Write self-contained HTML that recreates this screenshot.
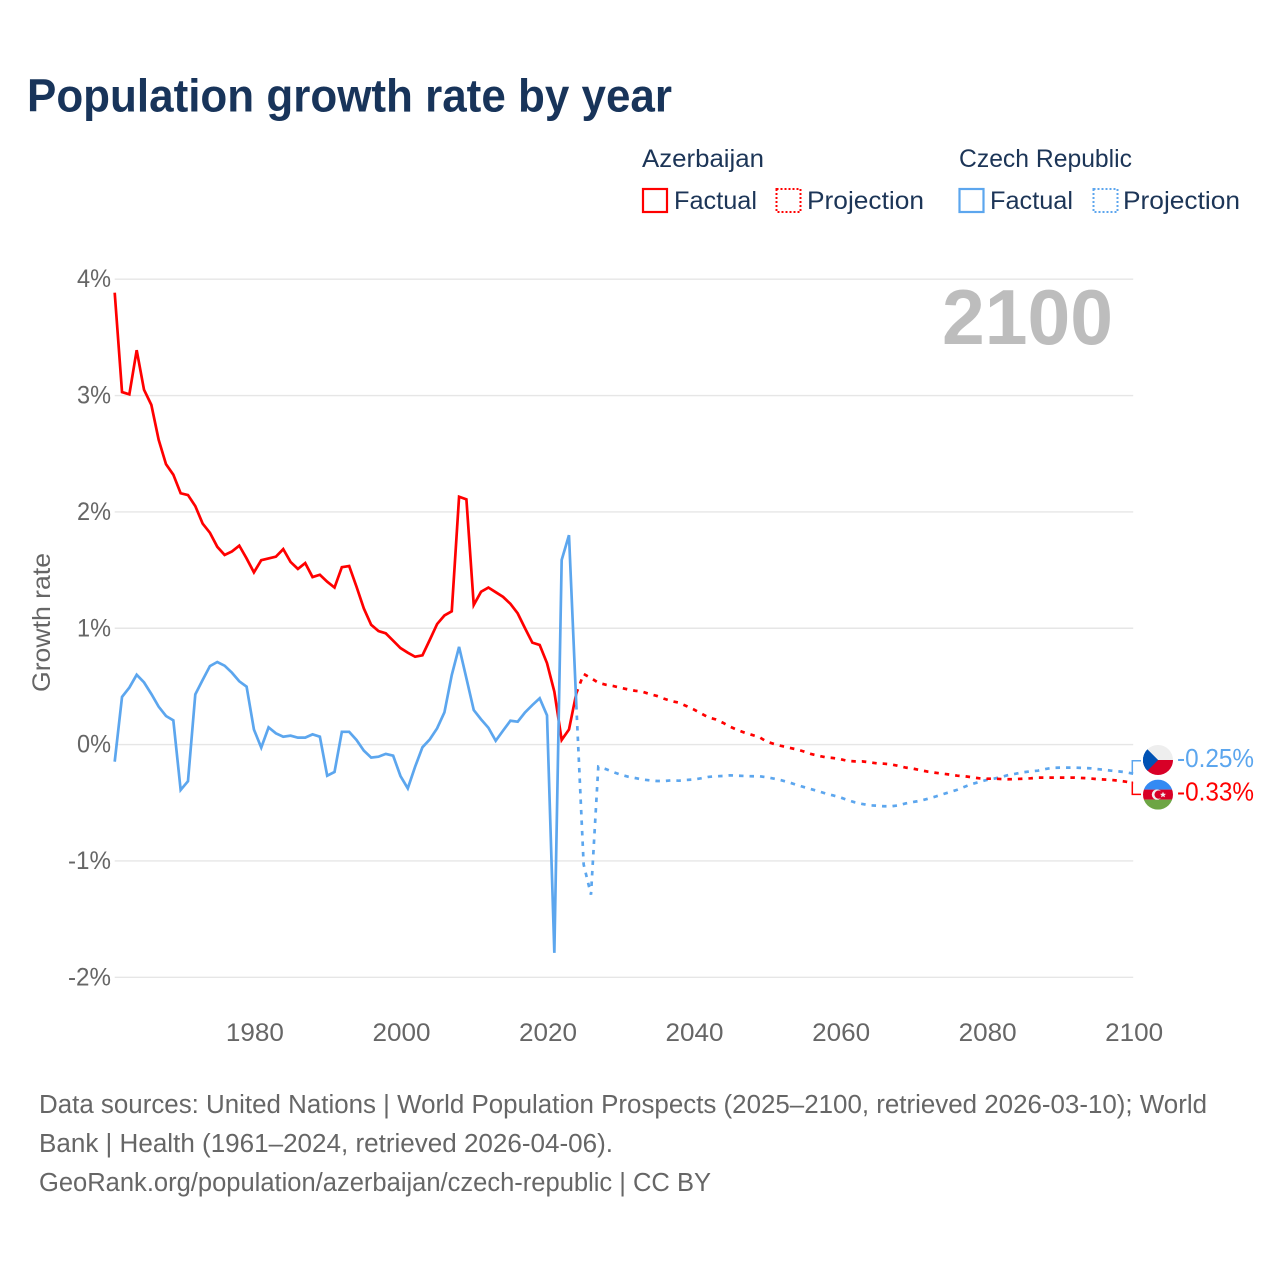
<!DOCTYPE html>
<html lang="en">
<head>
<meta charset="utf-8">
<title>Population growth rate by year</title>
<style>
html,body{margin:0;padding:0;background:#fff;width:1280px;height:1280px;overflow:hidden}
svg{display:block;font-family:"Liberation Sans",sans-serif}
</style>
</head>
<body>
<svg id="chart" width="1280" height="1280" viewBox="0 0 1280 1280" xmlns="http://www.w3.org/2000/svg">
  <defs>
    <clipPath id="clip-cz"><circle cx="1158" cy="760" r="15"/></clipPath>
    <clipPath id="clip-az"><circle cx="1158" cy="794.6" r="15"/></clipPath>
  </defs>
  <rect x="0" y="0" width="1280" height="1280" fill="#fff"/>
  <text x="27" y="111.5" font-size="46" font-weight="700" fill="#18345a" textLength="645" lengthAdjust="spacingAndGlyphs">Population growth rate by year</text>

  <g font-size="25" fill="#1c3557">
    <text x="642" y="167" textLength="122" lengthAdjust="spacingAndGlyphs">Azerbaijan</text>
    <text x="959" y="167" textLength="173" lengthAdjust="spacingAndGlyphs">Czech Republic</text>
    <rect x="643" y="189" width="24" height="23" fill="none" stroke="#ff0000" stroke-width="2.2"/>
    <text x="674" y="209" textLength="83" lengthAdjust="spacingAndGlyphs">Factual</text>
    <rect x="776.5" y="189" width="24" height="23" fill="none" stroke="#ff0000" stroke-width="2" stroke-dasharray="2 2"/>
    <text x="807" y="209" textLength="117" lengthAdjust="spacingAndGlyphs">Projection</text>
    <rect x="959.5" y="189" width="24" height="23" fill="none" stroke="#5ca6ee" stroke-width="2.2"/>
    <text x="990" y="209" textLength="83" lengthAdjust="spacingAndGlyphs">Factual</text>
    <rect x="1093.5" y="189" width="24" height="23" fill="none" stroke="#5ca6ee" stroke-width="2" stroke-dasharray="2 2"/>
    <text x="1123" y="209" textLength="117" lengthAdjust="spacingAndGlyphs">Projection</text>
  </g>

  <g id="grid"></g>
  <g id="yticks"></g>
  <g id="xticks"></g>
  <text transform="translate(50,622.5) rotate(-90)" text-anchor="middle" font-size="25" fill="#666" textLength="139" lengthAdjust="spacingAndGlyphs">Growth rate</text>
  <text x="942" y="344" font-size="78" font-weight="700" fill="#bdbdbd" textLength="171" lengthAdjust="spacingAndGlyphs">2100</text>

  <g id="series"></g>

  <path d="M1133 772.7H1132.3V760.7H1141" fill="none" stroke="#5ca6ee" stroke-width="1.5"/>
  <path d="M1133 782.3H1132.3V794.4H1141" fill="none" stroke="#ff0000" stroke-width="1.5"/>

  <g clip-path="url(#clip-cz)">
    <rect x="1143" y="745" width="30" height="15" fill="#eeeeee"/>
    <rect x="1143" y="760" width="30" height="15" fill="#d80027"/>
    <polygon points="1143,745 1158,760 1143,775" fill="#0052b4"/>
    <polygon points="1147,749 1158,760 1147,771 1143,775 1143,745" fill="#0052b4"/>
  </g>
  <g clip-path="url(#clip-az)">
    <rect x="1143" y="779.6" width="30" height="10" fill="#338af3"/>
    <rect x="1143" y="789.6" width="30" height="10" fill="#d80027"/>
    <rect x="1143" y="799.6" width="30" height="10" fill="#6da544"/>
    <circle cx="1157" cy="794.6" r="5.2" fill="#f0f0f0"/>
    <circle cx="1158.6" cy="794.6" r="4.1" fill="#d80027"/>
    <polygon points="1163,791.8 1163.9,793.7 1166,793.9 1164.4,795.2 1165,797.3 1163,796.2 1161,797.3 1161.6,795.2 1160,793.9 1162.1,793.7" fill="#f0f0f0"/>
  </g>
  <text x="1177" y="767" font-size="25.5" fill="#5ca6ee" textLength="77" lengthAdjust="spacingAndGlyphs">-0.25%</text>
  <text x="1177" y="800.5" font-size="25.5" fill="#ff0000" textLength="77" lengthAdjust="spacingAndGlyphs">-0.33%</text>

  <g font-size="25.5" fill="#666">
    <text x="39" y="1113" textLength="1168" lengthAdjust="spacingAndGlyphs">Data sources: United Nations | World Population Prospects (2025–2100, retrieved 2026-03-10); World</text>
    <text x="39" y="1152" textLength="574" lengthAdjust="spacingAndGlyphs">Bank | Health (1961–2024, retrieved 2026-04-06).</text>
    <text x="39" y="1191" textLength="672" lengthAdjust="spacingAndGlyphs">GeoRank.org/population/azerbaijan/czech-republic | CC BY</text>
  </g>
</svg>

<script>
// Chart data
const yTickValues = [4, 3, 2, 1, 0, -1, -2];
const yTickLabels = ["4%", "3%", "2%", "1%", "0%", "-1%", "-2%"];
const xTickValues = [1980, 2000, 2020, 2040, 2060, 2080, 2100];
const xTickLabels = ["1980", "2000", "2020", "2040", "2060", "2080", "2100"];

const factualStartYear = 1961;
const projectionStartYear = 2024;

const azerbaijanFactual = [
  3.884,3.03,3.01,3.39,3.05,2.92,2.62,2.41,2.32,2.16,
  2.145,2.05,1.90,1.82,1.70,1.63,1.66,1.71,1.60,1.48,
  1.585,1.60,1.615,1.68,1.57,1.51,1.56,1.44,1.46,1.40,
  1.35,1.525,1.535,1.357,1.17,1.03,0.976,0.956,0.893,0.83,
  0.79,0.755,0.767,0.90,1.036,1.11,1.146,2.13,2.108,1.20,
  1.314,1.35,1.31,1.27,1.21,1.128,1.0,0.876,0.856,0.70,
  0.455,0.04,0.13,0.44
];
const czechFactual = [
  -0.147,0.41,0.49,0.60,0.535,0.435,0.326,0.246,0.209,-0.39,
  -0.315,0.432,0.555,0.675,0.71,0.678,0.618,0.544,0.498,0.13,
  -0.026,0.148,0.097,0.068,0.077,0.06,0.06,0.088,0.068,-0.267,
  -0.235,0.11,0.11,0.04,-0.052,-0.112,-0.104,-0.08,-0.095,-0.27,
  -0.376,-0.19,-0.023,0.045,0.14,0.277,0.598,0.84,0.57,0.297,
  0.217,0.145,0.033,0.12,0.205,0.197,0.277,0.34,0.398,0.252,
  -1.79,1.587,1.80,0.34
];
const azerbaijanProjection = [
  0.44,0.607,0.572,0.532,0.515,0.504,0.489,0.475,0.463,0.455,
  0.435,0.418,0.394,0.374,0.36,0.332,0.303,0.269,0.235,0.217,
  0.188,0.154,0.125,0.102,0.083,0.063,0.025,0.005,-0.012,-0.027,
  -0.04,-0.058,-0.08,-0.095,-0.109,-0.115,-0.124,-0.14,-0.144,-0.144,
  -0.152,-0.161,-0.164,-0.17,-0.184,-0.198,-0.207,-0.22,-0.233,-0.242,
  -0.25,-0.258,-0.267,-0.272,-0.281,-0.29,-0.293,-0.293,-0.296,-0.298,
  -0.296,-0.293,-0.29,-0.284,-0.284,-0.284,-0.284,-0.284,-0.284,-0.287,
  -0.29,-0.296,-0.30,-0.304,-0.31,-0.319,-0.33
];
const czechProjection = [
  0.34,-1.03,-1.29,-0.19,-0.21,-0.235,-0.258,-0.275,-0.287,-0.30,
  -0.307,-0.313,-0.313,-0.307,-0.31,-0.304,-0.30,-0.29,-0.278,-0.272,
  -0.27,-0.264,-0.267,-0.27,-0.272,-0.272,-0.281,-0.293,-0.307,-0.324,
  -0.345,-0.364,-0.382,-0.40,-0.42,-0.436,-0.453,-0.476,-0.496,-0.51,
  -0.522,-0.525,-0.53,-0.53,-0.522,-0.505,-0.493,-0.482,-0.465,-0.447,
  -0.427,-0.407,-0.388,-0.362,-0.339,-0.321,-0.304,-0.293,-0.278,-0.261,
  -0.25,-0.238,-0.23,-0.224,-0.21,-0.20,-0.198,-0.198,-0.198,-0.20,
  -0.203,-0.21,-0.216,-0.224,-0.23,-0.238,-0.25
];

// Axis functions
const SVG_NS = "http://www.w3.org/2000/svg";
function xScale(year) { return 114.7 + (year - 1961) * (1133.2 - 114.7) / (2100 - 1961); }
function yScale(v) { return 744.6 - v * 116.35; }
function linePath(values, startYear) {
  return values.map(function (v, i) {
    return (i ? "L" : "M") + xScale(startYear + i).toFixed(2) + " " + yScale(v).toFixed(2);
  }).join("");
}

const gridGroup = document.getElementById("grid");
const yTickGroup = document.getElementById("yticks");
const xTickGroup = document.getElementById("xticks");
const seriesGroup = document.getElementById("series");

yTickValues.forEach(function (v, i) {
  const line = document.createElementNS(SVG_NS, "line");
  
  
  line.setAttribute("x1", 114.7);
  line.setAttribute("x2", 1133.2);
  line.setAttribute("y1", yScale(v));
  line.setAttribute("y2", yScale(v));
  line.setAttribute("stroke", "#e6e6e6");
  line.setAttribute("stroke-width", "1.4");
  gridGroup.appendChild(line);

  const label = document.createElementNS(SVG_NS, "text");
  
  
  label.setAttribute("x", 111);
  label.setAttribute("y", yScale(v) + 8);
  label.setAttribute("text-anchor", "end");
  label.setAttribute("font-size", "25");
  label.setAttribute("fill", "#666");
  label.setAttribute("textLength", yTickLabels[i].length === 2 ? 34 : 43);
  label.setAttribute("lengthAdjust", "spacingAndGlyphs");
  label.textContent = yTickLabels[i];
  yTickGroup.appendChild(label);
});

xTickValues.forEach(function (year, i) {
  const label = document.createElementNS(SVG_NS, "text");
  
  
  label.setAttribute("x", xScale(year) + 1);
  label.setAttribute("y", 1041);
  label.setAttribute("text-anchor", "middle");
  label.setAttribute("font-size", "25");
  label.setAttribute("fill", "#666");
  label.setAttribute("textLength", 58);
  label.setAttribute("lengthAdjust", "spacingAndGlyphs");
  label.textContent = xTickLabels[i];
  xTickGroup.appendChild(label);
});

function styleLine(el, color, dash) {
  el.setAttribute("fill", "none");
  el.setAttribute("stroke", color);
  el.setAttribute("stroke-width", "2.7");
  el.setAttribute("stroke-linejoin", "miter");
  if (dash) el.setAttribute("stroke-dasharray", dash);
  seriesGroup.appendChild(el);
}

const czechProjectionLine = document.createElementNS(SVG_NS, "path");


czechProjectionLine.setAttribute("d", linePath(czechProjection, projectionStartYear));
styleLine(czechProjectionLine, "#5ca6ee", "4.5 6");

const azerbaijanProjectionLine = document.createElementNS(SVG_NS, "path");


azerbaijanProjectionLine.setAttribute("d", linePath(azerbaijanProjection, projectionStartYear));
styleLine(azerbaijanProjectionLine, "#ff0000", "4.5 6");

const azerbaijanFactualLine = document.createElementNS(SVG_NS, "path");


azerbaijanFactualLine.setAttribute("d", linePath(azerbaijanFactual, factualStartYear));
styleLine(azerbaijanFactualLine, "#ff0000");

const czechFactualLine = document.createElementNS(SVG_NS, "path");


czechFactualLine.setAttribute("d", linePath(czechFactual, factualStartYear));
styleLine(czechFactualLine, "#5ca6ee");
</script>
</body>
</html>
